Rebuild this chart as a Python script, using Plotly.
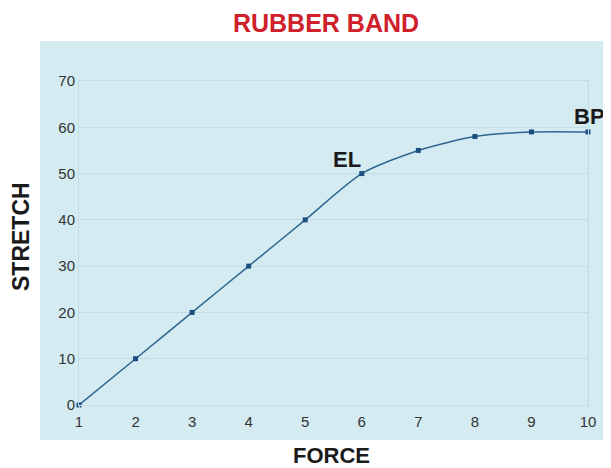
import plotly.graph_objects as go

force = [1, 2, 3, 4, 5, 6, 7, 8, 9, 10]
stretch = [0, 10, 20, 30, 40, 50, 55, 58, 59, 59]
y_ticks = [0, 10, 20, 30, 40, 50, 60, 70]
labels = [("EL", 6, 50, -15, 0), ("BP", 10, 59, 1, 1)]

# the page body adds an 8px offset, so the figure is sized to fit the window
W, H = 603, 460
L, R, T, B = 71, 23, 73, 63
pw, ph = W - L - R, H - T - B

panel = "#d3ebf1"
grid = "#c2dde5"
font_fam = "Arial, Liberation Sans, sans-serif"

fig = go.Figure()
fig.add_trace(go.Scatter(
    x=force, y=stretch, mode="lines+markers",
    line=dict(color="#2f6690", width=1.5, shape="spline", smoothing=0.7),
    marker=dict(symbol="square", size=5, color="#1c4f80"),
    hoverinfo="x+y", showlegend=False, cliponaxis=False,
))

for txt, xv, yv, dx, dy in labels:
    fig.add_annotation(x=xv, y=yv, text="<b>%s</b>" % txt, showarrow=False,
                       xanchor="center", yanchor="bottom",
                       xshift=dx, yshift=dy,
                       font=dict(family=font_fam, size=22, color="#1a1a1a"))

# axis titles
fig.add_annotation(xref="paper", yref="paper", x=(323 - L) / pw, y=(H - B - 447) / ph,
                   text="<b>FORCE</b>", showarrow=False, xanchor="center", yanchor="middle",
                   borderpad=0,
                   font=dict(family=font_fam, size=22, color="#1a1a1a"))
fig.add_annotation(xref="paper", yref="paper", x=(13 - L) / pw, y=(H - B - 229) / ph,
                   text="<b>STRETCH</b>", showarrow=False, textangle=-90,
                   xanchor="center", yanchor="middle", borderpad=0,
                   font=dict(family=font_fam, size=23, color="#1a1a1a"))

# light blue panel behind the chart
fig.add_shape(type="rect", xref="paper", yref="paper", layer="below",
              x0=(32 - L) / pw, x1=(W - L) / pw,
              y0=(H - B - 432) / ph, y1=(H - B - 33) / ph,
              line=dict(width=0), fillcolor=panel)

fig.update_layout(
    width=W, height=H,
    margin=dict(l=L, r=R, t=T, b=B, autoexpand=False),
    paper_bgcolor="white", plot_bgcolor="rgba(0,0,0,0)",
    title=dict(text="<b>RUBBER BAND</b>", x=318 / W, xanchor="center",
               y=1 - 15 / H, yanchor="middle",
               font=dict(family=font_fam, size=25, color="#d0202a")),
    font=dict(family=font_fam, color="#333333"),
    xaxis=dict(range=[1, 10], tickvals=force, showgrid=False, automargin=False,
               showline=True, mirror=True, linecolor=grid, linewidth=1,
               ticks="outside", ticklen=3, tickcolor=grid,
               tickfont=dict(size=15, color="#333333"), zeroline=False),
    yaxis=dict(range=[0, 70], tickvals=y_ticks, showgrid=True, gridcolor=grid,
               showline=True, mirror=True, linecolor=grid, linewidth=1,
               automargin=False, ticks="", ticklen=6,
               tickfont=dict(size=15, color="#333333"), zeroline=False),
)

fig.write_html("out.html")
